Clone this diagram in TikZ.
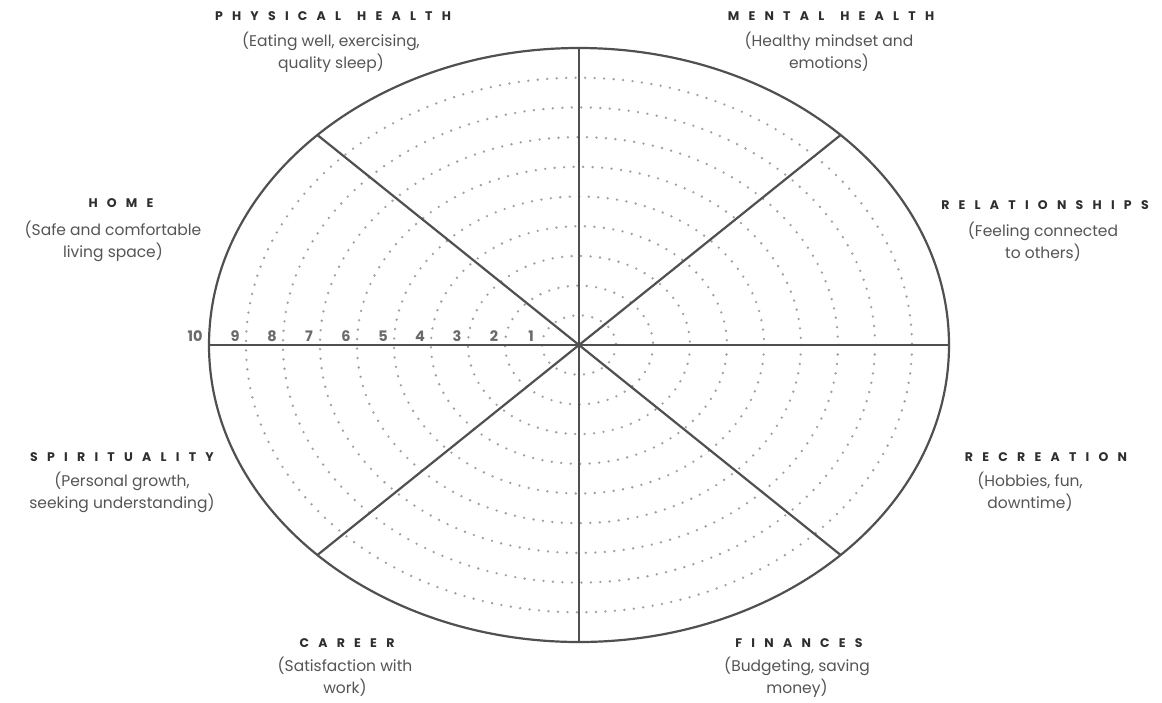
\documentclass[tikz,border=0pt]{standalone}
\usepackage{fontspec}
\setmainfont{Poppins}
\newfontfamily\capsfont[LetterSpace=74]{Poppins}
\newcommand{\twowords}[2]{\hbox{#1}\kern 16pt\hbox{#2}}
\definecolor{wline}{HTML}{505050}
\definecolor{wdot}{HTML}{A0A0A0}
\definecolor{wtitle}{HTML}{2E2E2E}
\definecolor{wsub}{HTML}{555555}
\definecolor{wnum}{HTML}{6A6A6A}
\begin{document}
\begin{tikzpicture}[x=1pt,y=-1pt,
  wheelline/.style={draw=wline,line width=2.2pt},
  ringdots/.style={draw=wdot,line width=2.6pt,line cap=round,dash pattern=on 0pt off 9.5pt},
  cattitle/.style={inner sep=0pt,text=wtitle,font=\capsfont\bfseries\fontsize{12.5}{14}\selectfont},
  catsub/.style={inner sep=0pt,text=wsub,align=center,font=\fontsize{15.5}{22}\selectfont},
  ringnum/.style={inner sep=0pt,text=wnum,font=\bfseries\fontsize{14.5}{15}\selectfont}]
\useasboundingbox[fill=white] (0,0) rectangle (1162,702);
\coordinate (c) at (579,345);
% dotted rings
\foreach \k in {1,...,9}{
  \draw[ringdots] (c) ellipse[x radius={37*\k}, y radius={29.7*\k}];
}
% spokes
\foreach \a in {0,45,...,315}{
  \draw[wheelline] (c) -- ++(\a:370 and 297);
}
% outer ellipse
\draw[wheelline] (c) ellipse[x radius=370, y radius=297];
% numbers
\foreach \k in {1,...,9}{
  \node[ringnum] (n\k) at ({579-37*\k-11},336) {\k};
}
\node[ringnum] (n10) at (195,336) {10};
% labels
\node[cattitle] (t1) at (333,16) {\twowords{PHYSICAL}{HEALTH}};
\node[catsub,anchor=north] (s1) at (331,32) {(Eating well, exercising,\\quality sleep)};
\node[cattitle] (t2) at (831,16) {\twowords{MENTAL}{HEALTH}};
\node[catsub,anchor=north] (s2) at (829,32) {(Healthy mindset and\\emotions)};
\node[cattitle] (t3) at (121,203) {HOME};
\node[catsub,anchor=north] (s3) at (113,221) {(Safe and comfortable\\living space)};
\node[cattitle] (t4) at (1045,205) {RELATIONSHIPS};
\node[catsub,anchor=north] (s4) at (1043,222) {(Feeling connected\\to others)};
\node[cattitle] (t5) at (122,457) {SPIRITUALITY};
\node[catsub,anchor=north] (s5) at (122,472) {(Personal growth,\\seeking understanding)};
\node[cattitle] (t6) at (1046,457) {RECREATION};
\node[catsub,anchor=north] (s6) at (1030,472) {(Hobbies, fun,\\downtime)};
\node[cattitle] (t7) at (347,643) {CAREER};
\node[catsub,anchor=north] (s7) at (345,657) {(Satisfaction with\\work)};
\node[cattitle] (t8) at (799,643) {FINANCES};
\node[catsub,anchor=north] (s8) at (797,657) {(Budgeting, saving\\money)};
\end{tikzpicture}
\end{document}
